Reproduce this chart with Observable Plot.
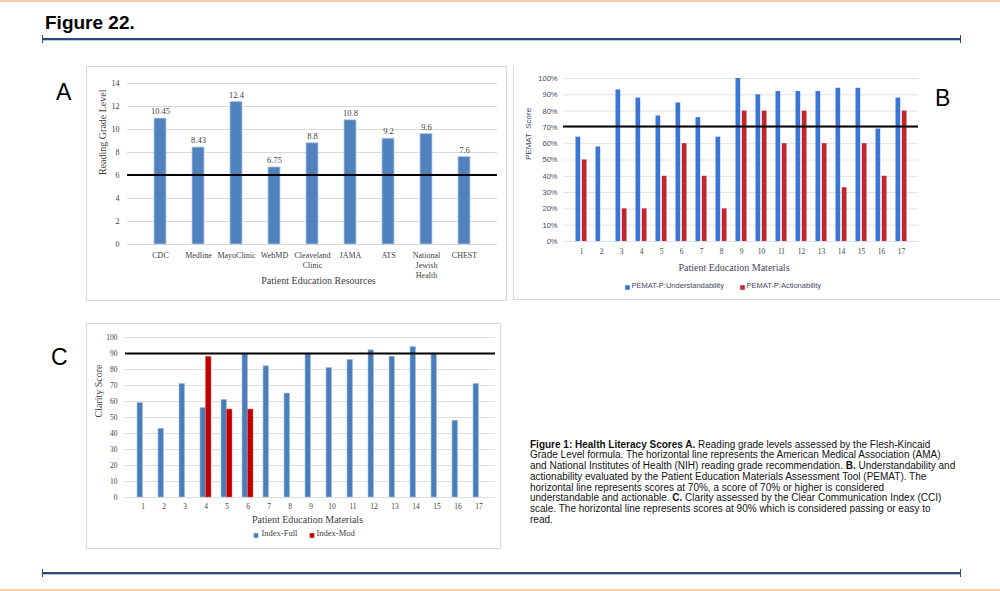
<!DOCTYPE html>
<html><head><meta charset="utf-8">
<script src="https://cdn.jsdelivr.net/npm/d3@7"></script>
<script src="https://cdn.jsdelivr.net/npm/@observablehq/plot@0.6"></script>
<style>
body{margin:0;width:1000px;height:591px;position:relative;background:#fff;overflow:hidden;font-family:"Liberation Sans",Arial,sans-serif}
.abs{position:absolute}
.letter{position:absolute;font-family:"Liberation Sans",Arial,sans-serif;font-size:23px;line-height:23px;color:#000}
.hline{position:absolute;left:43px;width:917px;height:2px;background:#2e4a7d;border-bottom:1px solid #b8c6de}
.cap{position:absolute;width:1px;height:8px;background:#2e4a7d}
#caption{position:absolute;left:530px;top:439.5px;font-family:"Liberation Sans",Arial,sans-serif;font-size:10px;line-height:10.8px;color:#111;white-space:nowrap}
svg{overflow:visible}
</style></head><body>
<div class="abs" style="left:0;top:0;width:1000px;height:2px;background:#f8cbad"></div>
<div class="abs" style="left:0;top:589px;width:1000px;height:2px;background:#f8cbad"></div>
<div class="abs" style="left:45px;top:13px;font-size:19px;line-height:19px;font-weight:bold;color:#000">Figure 22.</div>
<div class="hline" style="top:38px"></div>
<div class="cap" style="left:42px;top:35px"></div><div class="cap" style="left:960px;top:35px"></div>
<div class="hline" style="top:572px"></div>
<div class="cap" style="left:42px;top:569px"></div><div class="cap" style="left:960px;top:569px"></div>

<div class="letter" style="left:56px;top:80.5px">A</div>
<div class="letter" style="left:935px;top:86.5px">B</div>
<div class="letter" style="left:51px;top:345.5px">C</div>

<div id="boxA" class="abs" style="left:86px;top:66px;width:419px;height:233px;border:1px solid #d9d9d9"></div>
<div id="boxB" class="abs" style="left:513px;top:66px;width:490px;height:233px;border-left:1px solid #d9d9d9;border-bottom:1px solid #d9d9d9"></div>
<div id="boxC" class="abs" style="left:86px;top:323px;width:413px;height:224px;border:1px solid #d9d9d9"></div>

<div id="caption"><b>Figure 1: Health Literacy Scores A.</b> Reading grade levels assessed by the Flesh-Kincaid<br>Grade Level formula. The horizontal line represents the American Medical Association (AMA)<br>and National Institutes of Health (NIH) reading grade recommendation. <b>B.</b> Understandability and<br>actionability evaluated by the Patient Education Materials Assessment Tool (PEMAT). The<br>horizontal line represents scores at 70%, a score of 70% or higher is considered<br>understandable and actionable. <b>C.</b> Clarity assessed by the Clear Communication Index (CCI)<br>scale. The horizontal line represents scores at 90% which is considered passing or easy to<br>read.</div>

<script>
// ---------- Data ----------
// Panel A
const resources = ["CDC","Medline","MayoClinic","WebMD","Cleaveland\nClinic","JAMA","ATS","National\nJewish\nHealth","CHEST"];
const gradeBars = [10.95, 8.43, 12.4, 6.7, 8.8, 10.8, 9.2, 9.6, 7.6];
const gradeLabels = ["10.45","8.43","12.4","6.75","8.8","10.8","9.2","9.6","7.6"];
const gradeTarget = 6.05;
const gradeTicks = [0,2,4,6,8,10,12,14];

// Panel B
const materials = ["1","2","3","4","5","6","7","8","9","10","11","12","13","14","15","16","17"];
const pematSeries = ["PEMAT-P:Understandability","PEMAT-P:Actionability"];
const understandability = [64,58,93,88,77,85,76,64,100,90,92,92,92,94,94,69,88];
const actionability = [50,0,20,20,40,60,40,20,80,80,60,80,60,33,60,40,80];
const pematTarget = 70.6;
const pematTicks = [0,10,20,30,40,50,60,70,80,90,100];

// Panel C
const clSeries = ["Index-Full","Index-Mod"];
const indexFull = [59,43,71,56,61,90,82,65,90,81,86,92,88,94,90,48,71];
const indexMod = [null,null,null,88,55,55,null,null,null,null,null,null,null,null,null,null,null];
const clarityTarget = 90;
const clarityTicks = [0,10,20,30,40,50,60,70,80,90,100];

// ---------- Styles ----------
const blueA = "#4f81bd", blueB = "#3a76d6", redB = "#c0262c", blueC = "#4a7ebb", redC = "#c00000";
const serif = "Liberation Serif, Times New Roman, serif";
const sans = "Liberation Sans, Arial, sans-serif";

function place(svg, left, top) {
  svg.style.position = "absolute";
  svg.style.left = left + "px";
  svg.style.top = top + "px";
  document.body.appendChild(svg);
}

// ---------- Panel A ----------
{
  const data = resources.map((r, i) => ({r, v: gradeBars[i], lab: gradeLabels[i]}));
  const p = Plot.plot({
    width: 419, height: 233,
    marginLeft: 40, marginRight: 9, marginTop: 16, marginBottom: 56,
    style: {fontFamily: serif, fontSize: "8px", color: "#404040", background: "transparent", overflow: "visible"},
    x: {domain: resources, padding: 0.68},
    y: {domain: [0, 14]},
    marks: [
      Plot.gridY(gradeTicks, {stroke: "#d9d9d9", strokeOpacity: 1}),
      Plot.axisY(gradeTicks, {tickSize: 0, tickPadding: 8, label: null, fontSize: 8, fill: "#404040"}),
      Plot.axisX({tickSize: 0, tickPadding: 7, label: null, fontSize: 8, lineHeight: 1.2, fill: "#404040"}),
      Plot.barY(data, {x: "r", y: "v", fill: blueA, stroke: "#b4cbe8", strokeWidth: 0.8}),
      Plot.text(data, {x: "r", y: "v", text: "lab", dy: -7, fontSize: 8.5, fill: "#404040"}),
      Plot.ruleY([gradeTarget], {stroke: "#000", strokeWidth: 2}),
      Plot.text(["Reading Grade Level"], {text: d => d, frameAnchor: "left", rotate: -90, dx: -25, dy: 11, fontSize: 10, fill: "#404040"}),
      Plot.text(["Patient Education Resources"], {text: d => d, frameAnchor: "bottom", dx: 6, dy: 39, fontSize: 10, fill: "#404040"})
    ]
  });
  place(p, 87, 67);
}

// ---------- Panel B ----------
{
  const data = materials.map((m, i) => ({m, u: understandability[i], a: actionability[i]}));
  const p = Plot.plot({
    width: 476, height: 233,
    marginLeft: 49, marginRight: 72, marginTop: 11, marginBottom: 59,
    style: {fontFamily: sans, fontSize: "7.5px", color: "#44475a", background: "transparent", overflow: "visible"},
    x: {domain: materials, paddingInner: 0.42, paddingOuter: 0.225},
    y: {domain: [0, 100]},
    color: {domain: pematSeries, range: [blueB, redB]},
    marks: [
      Plot.gridY(pematTicks, {stroke: "#e2e2ee", strokeOpacity: 1}),
      Plot.axisY(pematTicks, {tickSize: 0, tickPadding: 6, label: null, tickFormat: d => d + "%", fontSize: 7.5, fill: "#44475a"}),
      Plot.axisX({tickSize: 0, tickPadding: 7, label: null, fontFamily: serif, fontSize: 7.5, fill: "#44475a"}),
      Plot.barY(data, {x: "m", y: "u", fill: () => pematSeries[0], insetLeft: 0.5, insetRight: 6.8}),
      Plot.barY(data, {x: "m", y: "a", fill: () => pematSeries[1], insetLeft: 6.8, insetRight: 0.5}),
      Plot.ruleY([pematTarget], {stroke: "#000", strokeWidth: 2}),
      Plot.text(["PEMAT  Score"], {text: d => d, frameAnchor: "left", rotate: -90, dx: -35, dy: 0, fontSize: 8, fill: "#44475a"}),
      Plot.text(["Patient Education Materials"], {text: d => d, frameAnchor: "bottom", dx: -7, dy: 29, fontFamily: serif, fontSize: 10, fill: "#44475a"}),
      Plot.dot([pematSeries[0]], {frameAnchor: "bottom-left", dx: 64, dy: 46, symbol: "square", r: 2.6, fill: d => d}),
      Plot.text([pematSeries[0]], {text: d => d, frameAnchor: "bottom-left", dx: 68, dy: 46, textAnchor: "start", fontSize: 7.5, fill: "#44475a"}),
      Plot.dot([pematSeries[1]], {frameAnchor: "bottom-left", dx: 179, dy: 46, symbol: "square", r: 2.6, fill: d => d}),
      Plot.text([pematSeries[1]], {text: d => d, frameAnchor: "bottom-left", dx: 183, dy: 46, textAnchor: "start", fontSize: 7.5, fill: "#44475a"})
    ]
  });
  place(p, 514, 67);
}

// ---------- Panel C ----------
{
  const data = materials.map((m, i) => ({m, f: indexFull[i], md: indexMod[i]}));
  const p = Plot.plot({
    width: 413, height: 224,
    marginLeft: 38, marginRight: 5, marginTop: 13, marginBottom: 51,
    style: {fontFamily: serif, fontSize: "7.5px", color: "#404040", background: "transparent", overflow: "visible"},
    x: {domain: materials, paddingInner: 0.5, paddingOuter: 0.25},
    y: {domain: [0, 100]},
    color: {domain: clSeries, range: [blueC, redC]},
    marks: [
      Plot.gridY(clarityTicks, {stroke: "#dedede", strokeOpacity: 1}),
      Plot.axisY(clarityTicks, {tickSize: 0, tickPadding: 8, label: null, fontSize: 7.5, fill: "#404040"}),
      Plot.axisX({tickSize: 0, tickPadding: 6, label: null, fontSize: 7.5, fill: "#404040"}),
      Plot.barY(data, {x: "m", y: "f", fill: () => clSeries[0], stroke: "#a9c3e6", strokeWidth: 0.6, insetLeft: 0, insetRight: 5.45}),
      Plot.barY(data.filter(d => d.md != null), {x: "m", y: "md", fill: () => clSeries[1], stroke: "#e07070", strokeWidth: 0.5, insetLeft: 5.45, insetRight: 0}),
      Plot.ruleY([clarityTarget], {stroke: "#000", strokeWidth: 2}),
      Plot.text(["Clarity Score"], {text: d => d, frameAnchor: "left", rotate: -90, dx: -27, dy: 0, fontSize: 10, fill: "#404040"}),
      Plot.text(["Patient Education Materials"], {text: d => d, frameAnchor: "bottom", dx: -3, dy: 25, fontSize: 10, fill: "#404040"}),
      Plot.dot([clSeries[0]], {frameAnchor: "bottom-left", dx: 130.5, dy: 38, symbol: "square", r: 2.6, fill: d => d}),
      Plot.text([clSeries[0]], {text: d => d, frameAnchor: "bottom-left", dx: 136, dy: 38, textAnchor: "start", fontSize: 8.5, fill: "#404040"}),
      Plot.dot([clSeries[1]], {frameAnchor: "bottom-left", dx: 186.5, dy: 38, symbol: "square", r: 2.6, fill: d => d}),
      Plot.text([clSeries[1]], {text: d => d, frameAnchor: "bottom-left", dx: 191, dy: 38, textAnchor: "start", fontSize: 8.5, fill: "#404040"})
    ]
  });
  place(p, 87, 324);
}
</script>
</body></html>
